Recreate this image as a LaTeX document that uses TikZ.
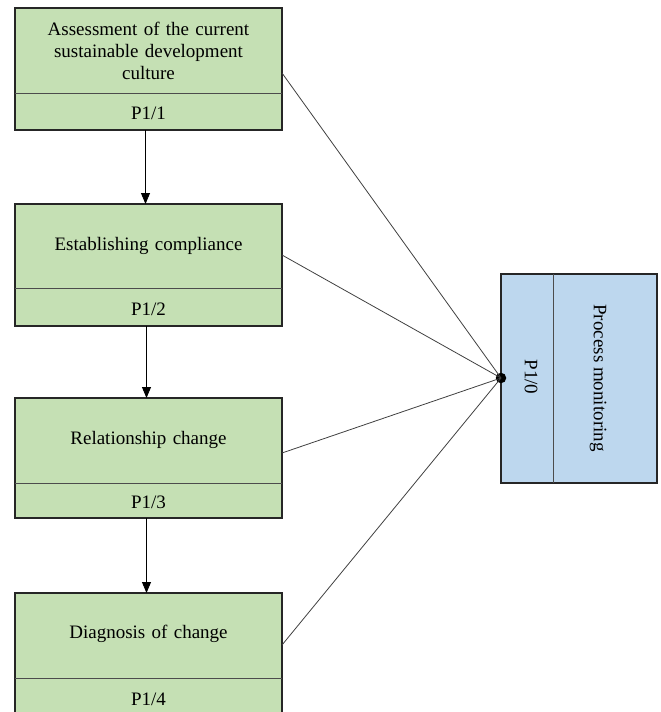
\documentclass[tikz,border=0pt]{standalone}
\usepackage{fontspec}
\setmainfont{Liberation Serif}
\usetikzlibrary{arrows.meta}
\definecolor{gfill}{HTML}{C5E0B4}
\definecolor{bfill}{HTML}{BDD7EE}
\begin{document}
\begin{tikzpicture}[x=1pt,y=-1pt,
  gbox/.style={draw=black!85, line width=1.5pt, fill=gfill, minimum width=267pt, inner sep=0pt, outer sep=0pt},
  bbox/.style={draw=black!85, line width=1.5pt, fill=bfill, minimum width=156pt, minimum height=209pt, inner sep=0pt, outer sep=0pt},
  divline/.style={draw=black!70, line width=0.9pt},
  txt/.style={font=\fontsize{19}{22}\selectfont, text width=250pt, align=center, inner sep=0pt},
  conn/.style={draw=black!75, line width=0.8pt},
  flow/.style={draw=black, line width=0.9pt, -{Triangle[width=9pt,length=11pt]}}]
\useasboundingbox (0,0) rectangle (661,712);
\clip (0,0) rectangle (661,712);
% green boxes
\node[gbox, minimum height=122pt] (b1) at (148.5,69) {};
\node[gbox, minimum height=122pt] (b2) at (148.5,265) {};
\node[gbox, minimum height=120pt] (b3) at (148.5,458) {};
\node[gbox, minimum height=135pt] (b4) at (148.5,660.5) {};
% dividers
\draw[divline] (15,93) -- (282,93);
\draw[divline] (15,288) -- (282,288);
\draw[divline] (15,483) -- (282,483);
\draw[divline] (15,678) -- (282,678);
% texts
\node[txt] (t1) at (148.5,51) {Assessment of the current\\sustainable development\\culture};
\node[txt] (p1) at (148.5,113) {P1/1};
\node[txt] (t2) at (148.5,246) {Establishing compliance};
\node[txt] (p2) at (148.5,309) {P1/2};
\node[txt] (t3) at (148.5,440) {Relationship change};
\node[txt] (p3) at (148.5,502) {P1/3};
\node[txt] (t4) at (148.5,634) {Diagnosis of change};
\node[txt] (p4) at (148.5,699) {P1/4};
% blue box
\node[bbox] (pm) at (579,378.5) {};
\draw[divline] (553,274) -- (553,483);
\node[font=\fontsize{19}{22}\selectfont, rotate=-90, inner sep=0pt] (p0) at (531,377) {P1/0};
\node[font=\fontsize{19}{22}\selectfont, rotate=-90, inner sep=0pt] (pmt) at (598,378) {Process monitoring};
% dot
\node[circle, fill=black, inner sep=0pt, minimum size=10.5pt] (dot) at (501,378) {};
% connectors
\draw[conn] ([yshift=-65pt]b1.north east) -- (dot.center);
\draw[conn] ([yshift=-51pt]b2.north east) -- (dot.center);
\draw[conn] ([yshift=-55pt]b3.north east) -- (dot.center);
\draw[conn] ([yshift=-52pt]b4.north east) -- (dot.center);
% flow arrows
\draw[flow] ([xshift=-3pt]b1.south) -- ([xshift=-3pt]b2.north);
\draw[flow] ([xshift=-2pt]b2.south) -- ([xshift=-2pt]b3.north);
\draw[flow] ([xshift=-2pt]b3.south) -- ([xshift=-2pt]b4.north);
\end{tikzpicture}
\end{document}
